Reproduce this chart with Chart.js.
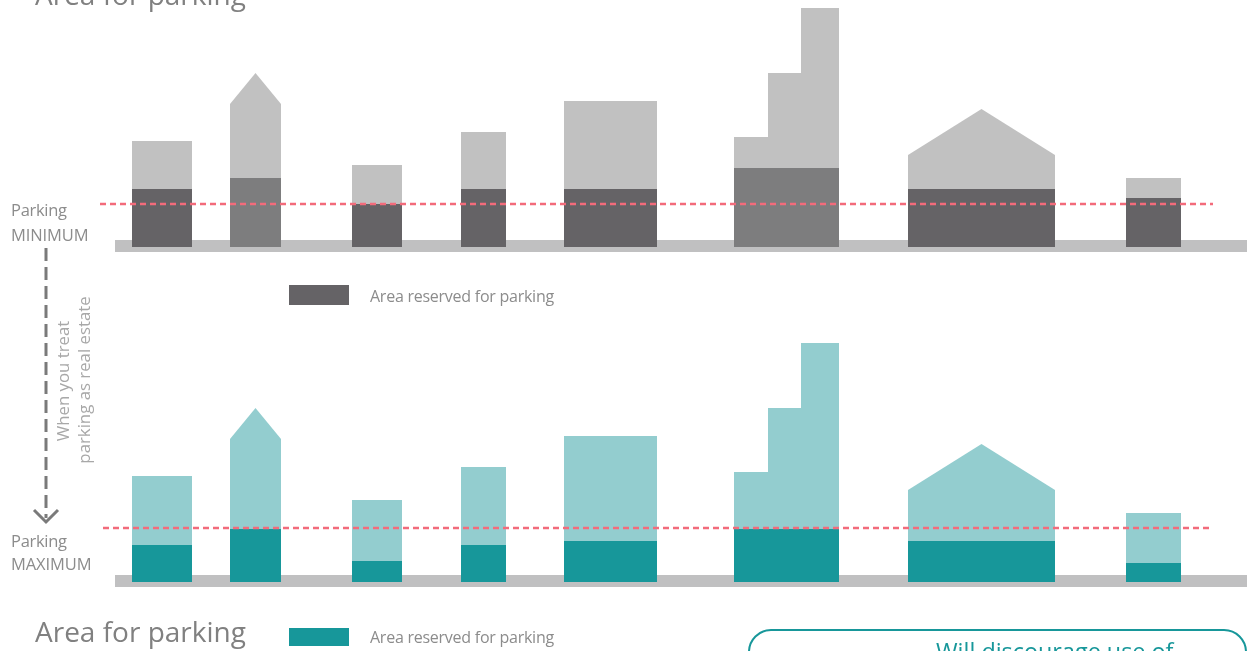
<!DOCTYPE html>
<html>
<head>
<meta charset="utf-8">
<script src="https://cdn.jsdelivr.net/npm/chart.js@4.4.1/dist/chart.umd.min.js"></script>
<style>
  html, body { margin: 0; padding: 0; background: #fff; }
  #stage { position: relative; width: 1247px; height: 651px; overflow: hidden; font-family: "Open Sans", sans-serif; }
  #stage canvas { position: absolute; left: 0; }
  #topChart { top: 0; }
  #bottomChart { top: 335px; }
  #overlay { position: absolute; left: 0; top: 0; }
</style>
</head>
<body>
<div id="stage">
  <canvas id="topChart" width="1247" height="260"></canvas>
  <canvas id="bottomChart" width="1247" height="260"></canvas>
  <svg id="overlay" width="1247" height="651" font-family="Open Sans, sans-serif">
    <text x="35" y="5" font-size="28" fill="#808080">Area for parking</text>
    <text x="11" y="216" font-size="16.5" fill="#8c8c8c" letter-spacing="-0.3">Parking</text>
    <text x="11" y="241" font-size="16.5" fill="#8c8c8c" letter-spacing="-0.1">MINIMUM</text>
    <text x="11" y="547" font-size="16.5" fill="#8c8c8c" letter-spacing="-0.3">Parking</text>
    <text x="11" y="570" font-size="16.5" fill="#8c8c8c" letter-spacing="-0.1">MAXIMUM</text>

    <line x1="46" y1="248" x2="46" y2="518" stroke="#7a7a7a" stroke-width="3" stroke-dasharray="13 6"/>
    <polyline points="34,510 46,522 58,510" fill="none" stroke="#7a7a7a" stroke-width="3"/>
    <text transform="translate(69,381) rotate(-90)" text-anchor="middle" font-size="16.8" fill="#a8a8a8">When you treat</text>
    <text transform="translate(90,380) rotate(-90)" text-anchor="middle" font-size="16.8" fill="#a8a8a8">parking as real estate</text>

    <rect x="289" y="285" width="60" height="20" fill="#656366"/>
    <text x="370" y="302" font-size="16" fill="#8c8c8c" letter-spacing="-0.25">Area reserved for parking</text>
    <rect x="289" y="628" width="60" height="18" fill="#17979a"/>
    <text x="370" y="643" font-size="16" fill="#8c8c8c" letter-spacing="-0.25">Area reserved for parking</text>
    <text x="35" y="642" font-size="28" fill="#808080">Area for parking</text>

    <rect x="749" y="630" width="497" height="80" rx="22" fill="none" stroke="#17979a" stroke-width="2"/>
    <text x="936" y="660" font-size="23.4" fill="#17979a">Will discourage use of</text>
  </svg>
</div>
<script>
// Buildings along the street (1 unit = 4 px on screen)
const lotStart      = [33, 57.5, 88, 115.25, 141, 183.5, 227, 281.5];
const lotWidth      = [15, 12.75, 12.5, 11.25, 23.25, 26.25, 36.75, 13.75];
const wallHeight    = [26.5, 35.75, 20.5, 28.75, 36.5, 27.5, 23, 17.25];
const roofPeak      = [null, 43.5, null, null, null, null, 34.5, null];
const towerSteps    = [null, null, null, null, null, [27.5, 43.5, 59.75], null, null];
const towerStepWide = [null, null, null, null, null, [8.5, 8.25, 9.5], null, null];

// Parking area inside each building
const parkingMinimum = [14.5, 17.25, 10.75, 14.5, 14.5, 19.75, 14.5, 12.25];
const parkingMaximum = [9.25, 13.25, 5.25, 9.25, 10.25, 13.25, 10.25, 4.75];

// Policy levels (dashed lines)
const minimumLevel = 10.75;
const maximumLevel = 13.5;

// outline of one building, starting and ending on the ground
function outline(i) {
    const x0 = lotStart[i], x1 = lotStart[i] + lotWidth[i];
    const pts = [{ x: x0, y: 0 }];
    if (towerSteps[i]) {
        let x = x0;
        towerSteps[i].forEach((h, k) => {
            pts.push({ x: x, y: h });
            x += towerStepWide[i][k];
            pts.push({ x: x, y: h });
        });
    } else if (roofPeak[i]) {
        pts.push({ x: x0, y: wallHeight[i] });
        pts.push({ x: (x0 + x1) / 2, y: roofPeak[i] });
        pts.push({ x: x1, y: wallHeight[i] });
    } else {
        pts.push({ x: x0, y: wallHeight[i] });
        pts.push({ x: x1, y: wallHeight[i] });
    }
    pts.push({ x: x1, y: 0 });
    return pts;
}

function box(i, h) {
    const x0 = lotStart[i], x1 = lotStart[i] + lotWidth[i];
    return [{ x: x0, y: 0 }, { x: x0, y: h }, { x: x1, y: h }, { x: x1, y: 0 }];
}

const shape = { pointRadius: 0, borderWidth: 0, borderColor: 'transparent', tension: 0 };

const makePanel = (canvasId, parking, level, levelFrom, bodyColor, parkColors) => {
    const datasets = [];
    // ground strip
    datasets.push(Object.assign({
        data: [{ x: 28.75, y: 1.75 }, { x: 311.75, y: 1.75 }],
        fill: { value: -1.25 },
        backgroundColor: '#c0c0c1',
        order: 4
    }, shape));
    lotStart.forEach((_, i) => {
        datasets.push(Object.assign({
            data: outline(i),
            fill: 'origin',
            backgroundColor: bodyColor,
            order: 3
        }, shape));
        datasets.push(Object.assign({
            data: box(i, parking[i]),
            fill: 'origin',
            backgroundColor: parkColors[i],
            order: 2
        }, shape));
    });
    // policy level
    datasets.push({
        data: [{ x: levelFrom, y: level }, { x: 303.25, y: level }],
        fill: false,
        borderColor: '#f36b7b',
        borderWidth: 2.5,
        borderDash: [6, 4],
        pointRadius: 0,
        order: 1
    });

    new Chart(document.getElementById(canvasId), {
        type: 'line',
        data: { datasets: datasets },
        options: {
            responsive: false,
            animation: false,
            devicePixelRatio: 1,
            events: [],
            layout: { padding: 0 },
            plugins: { legend: { display: false }, tooltip: { enabled: false } },
            scales: {
                x: { type: 'linear', min: 0, max: 311.75, display: false },
                y: { type: 'linear', min: -3.25, max: 61.75, display: false }
            }
        }
    });
};

const darkGray = '#656366', midGray = '#7d7d7e';
makePanel('topChart', parkingMinimum, minimumLevel, 25, '#c1c1c1',
    [darkGray, midGray, darkGray, darkGray, darkGray, midGray, darkGray, darkGray]);
makePanel('bottomChart', parkingMaximum, maximumLevel, 25.75, '#93cdcf',
    lotStart.map(() => '#17979a'));
</script>
</body>
</html>
